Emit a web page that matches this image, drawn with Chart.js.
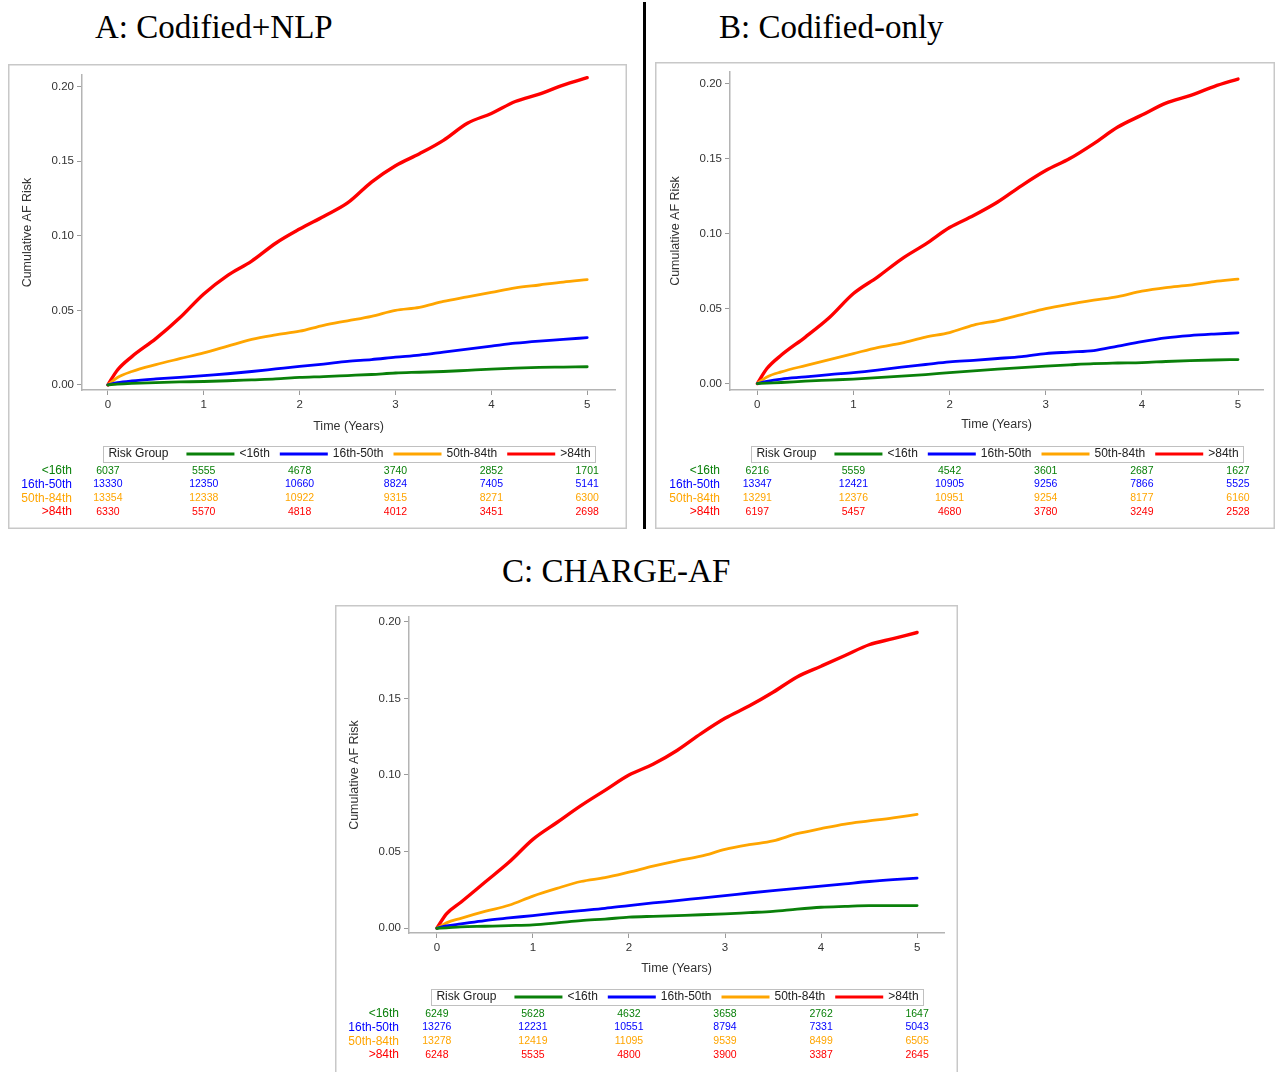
<!DOCTYPE html>
<html>
<head>
<meta charset="utf-8">
<title>Cumulative AF Risk by Risk Group</title>
<script src="https://cdn.jsdelivr.net/npm/chart.js@4.4.0/dist/chart.umd.min.js"></script>
<style>
    html, body { margin: 0; padding: 0; background: #fff; overflow: hidden; }
    body { width: 1276px; height: 1072px; position: relative; }
    .title {
        position: absolute;
        font-family: "Liberation Serif", "Times New Roman", serif;
        font-size: 33px;
        line-height: 33px;
        color: #000;
        white-space: nowrap;
    }
    canvas { position: absolute; }
    #divider { position: absolute; left: 643px; top: 2px; width: 3px; height: 527px; background: #000; }
</style>
</head>
<body>
<div class="title" style="left:95px; top:11px;">A: Codified+NLP</div>
<div class="title" style="left:719px; top:11px;">B: Codified-only</div>
<div class="title" style="left:502px; top:555px;">C: CHARGE-AF</div>
<div id="divider"></div>
<canvas id="chart-a"></canvas>
<canvas id="chart-b"></canvas>
<canvas id="chart-c"></canvas>

<script>
// --- 1. Data ---
const years = [0, 0.1, 0.25, 0.5, 0.75, 1, 1.25, 1.5, 1.75, 2, 2.25, 2.5, 2.75, 3, 3.25, 3.5, 3.75, 4, 4.25, 4.5, 4.75, 5];
const timeTicks = [0, 1, 2, 3, 4, 5];
const riskTicks = [0, 0.05, 0.10, 0.15, 0.20];
const groupNames = ['<16th', '16th-50th', '50th-84th', '>84th'];

// A: Codified+NLP
const aLow   = [0, .0005, .001, .0016, .002, .0023, .0028, .0034, .004, .005, .0056, .0063, .007, .008, .0085, .009, .0098, .0106, .0113, .0118, .012, .0122];
const aMid   = [0, .0015, .0027, .004, .005, .0063, .0075, .009, .0107, .0124, .014, .0158, .017, .0186, .020, .022, .024, .026, .028, .0294, .0305, .0317];
const aUpper = [0, .005, .009, .0136, .0176, .0215, .026, .0305, .0335, .036, .040, .043, .046, .050, .052, .056, .059, .062, .065, .067, .069, .0706];
const aTop   = [0, .010, .019, .031, .045, .061, .0735, .083, .095, .1045, .113, .122, .136, .147, .155, .164, .1755, .182, .190, .195, .201, .206];
const aAtRiskLow   = [6037, 5555, 4678, 3740, 2852, 1701];
const aAtRiskMid   = [13330, 12350, 10660, 8824, 7405, 5141];
const aAtRiskUpper = [13354, 12338, 10922, 9315, 8271, 6300];
const aAtRiskTop   = [6330, 5570, 4818, 4012, 3451, 2698];

// B: Codified-only
const bLow   = [0, .0003, .0007, .0016, .0023, .003, .004, .005, .006, .0073, .0085, .0096, .0106, .0116, .0125, .0133, .0137, .014, .0147, .0153, .0157, .016];
const bMid   = [0, .0015, .003, .0044, .006, .0073, .009, .011, .0127, .0144, .0155, .0167, .018, .020, .021, .022, .025, .028, .0305, .032, .033, .0338];
const bUpper = [0, .0044, .0078, .012, .016, .020, .024, .027, .031, .034, .039, .042, .046, .050, .053, .0556, .058, .0616, .064, .0656, .068, .0696];
const bTop   = [0, .010, .019, .031, .044, .060, .071, .083, .093, .104, .112, .121, .132, .142, .150, .160, .171, .179, .187, .192, .198, .203];
const bAtRiskLow   = [6216, 5559, 4542, 3601, 2687, 1627];
const bAtRiskMid   = [13347, 12421, 10905, 9256, 7866, 5525];
const bAtRiskUpper = [13291, 12376, 10951, 9254, 8177, 6160];
const bAtRiskTop   = [6197, 5457, 4680, 3780, 3249, 2528];

// C: CHARGE-AF
const cLow   = [0, .0003, .0009, .0013, .0017, .0022, .0035, .005, .006, .0072, .0078, .0083, .0088, .0094, .0102, .011, .0125, .0137, .0143, .0148, .0148, .0148];
const cMid   = [0, .0015, .0028, .005, .0067, .0083, .010, .0115, .013, .0148, .0165, .018, .0197, .0213, .023, .0246, .026, .0275, .029, .0305, .0317, .0327];
const cUpper = [0, .0035, .0065, .011, .015, .021, .026, .0305, .033, .0366, .0405, .044, .047, .0514, .0545, .057, .0617, .065, .068, .070, .072, .0743];
const cTop   = [0, .0094, .017, .030, .043, .058, .069, .080, .090, .100, .107, .116, .127, .137, .145, .154, .164, .171, .178, .185, .189, .193];
const cAtRiskLow   = [6249, 5628, 4632, 3658, 2762, 1647];
const cAtRiskMid   = [13276, 12231, 10551, 8794, 7331, 5043];
const cAtRiskUpper = [13278, 12419, 11095, 9539, 8499, 6505];
const cAtRiskTop   = [6248, 5535, 4800, 3900, 3387, 2645];

// --- 2. Styles and layout ---
const groupColors = ['#0a800a', '#0000ff', '#ffa500', '#ff0000'];
const lineWidths = [2.8, 2.8, 2.8, 3.4];
const SANS = '"Liberation Sans", Arial, sans-serif';
Chart.defaults.font.family = SANS;

const panels = [
    { id: 'chart-a', left: 8, top: 64, width: 619, height: 465,
      pad: { left: 8, top: 11, right: 12, bottom: 91 }, yWidth: 66, xHeight: 48,
      xMin: -0.27, xMax: 5.29, yMin: -0.0034, yMax: 0.2078,
      series: [aLow, aMid, aUpper, aTop],
      atRisk: [aAtRiskLow, aAtRiskMid, aAtRiskUpper, aAtRiskTop] },
    { id: 'chart-b', left: 655, top: 62, width: 620, height: 467,
      pad: { left: 9, top: 10, right: 12, bottom: 92.5 }, yWidth: 66, xHeight: 46.5,
      xMin: -0.284, xMax: 5.26, yMin: -0.0043, yMax: 0.2077,
      series: [bLow, bMid, bUpper, bTop],
      atRisk: [bAtRiskLow, bAtRiskMid, bAtRiskUpper, bAtRiskTop] },
    { id: 'chart-c', left: 335, top: 605, width: 623, height: 470,
      pad: { left: 8, top: 12, right: 14, bottom: 94.5 }, yWidth: 66, xHeight: 47.5,
      xMin: -0.29, xMax: 5.28, yMin: -0.0031, yMax: 0.2031,
      series: [cLow, cMid, cUpper, cTop],
      atRisk: [cAtRiskLow, cAtRiskMid, cAtRiskUpper, cAtRiskTop] }
];

// Frame, legend box and number-at-risk table, positioned from the x scale
function makeTablePlugin(atRisk) {
    return {
        id: 'riskTable',
        beforeDraw(chart) {
            const { ctx, width, height } = chart;
            ctx.save();
            ctx.strokeStyle = '#c8c8c8';
            ctx.lineWidth = 1.5;
            ctx.strokeRect(0.75, 0.75, width - 1.5, height - 1.5);
            ctx.restore();
        },
        afterDraw(chart) {
            const { ctx, chartArea } = chart;
            const xs = chart.scales.x;
            ctx.save();

            // legend
            ctx.font = '12px ' + SANS;
            const swatch = 48, swGap = 5, itemGap = 10, pad = 5, headGap = 18;
            let w = pad + ctx.measureText('Risk Group').width + headGap;
            groupNames.forEach((t, i) => {
                w += swatch + swGap + ctx.measureText(t).width + (i < groupNames.length - 1 ? itemGap : 0);
            });
            w += pad;
            const cy = chartArea.bottom + 64;
            let x = (chartArea.left + chartArea.right) / 2 + 1 - w / 2;
            ctx.strokeStyle = '#c0c0c0';
            ctx.lineWidth = 1;
            ctx.strokeRect(Math.round(x) + 0.5, Math.round(cy - 8) + 0.5, Math.round(w), 16);
            ctx.fillStyle = '#222';
            ctx.textAlign = 'left';
            ctx.textBaseline = 'middle';
            x += pad;
            ctx.fillText('Risk Group', x, cy);
            x += ctx.measureText('Risk Group').width + headGap;
            groupNames.forEach((t, i) => {
                ctx.strokeStyle = groupColors[i];
                ctx.lineWidth = 3;
                ctx.beginPath();
                ctx.moveTo(x, cy);
                ctx.lineTo(x + swatch, cy);
                ctx.stroke();
                x += swatch + swGap;
                ctx.fillStyle = '#222';
                ctx.fillText(t, x, cy);
                x += ctx.measureText(t).width + itemGap;
            });

            // number at risk
            atRisk.forEach((row, r) => {
                const y = chartArea.bottom + 81 + r * 13.6;
                ctx.fillStyle = groupColors[r];
                ctx.font = '12px ' + SANS;
                ctx.textAlign = 'right';
                ctx.fillText(groupNames[r], chartArea.left - 10, y);
                ctx.font = '10.5px ' + SANS;
                ctx.textAlign = 'center';
                row.forEach((n, i) => ctx.fillText(String(n), xs.getPixelForValue(timeTicks[i]), y));
            });
            ctx.restore();
        }
    };
}

// --- 3. Build the three charts ---
panels.forEach(p => {
    const canvas = document.getElementById(p.id);
    canvas.width = p.width;
    canvas.height = p.height;
    canvas.style.left = p.left + 'px';
    canvas.style.top = p.top + 'px';
    canvas.style.width = p.width + 'px';
    canvas.style.height = p.height + 'px';

    new Chart(canvas, {
        type: 'line',
        data: {
            datasets: p.series.map((vals, i) => ({
                label: groupNames[i],
                data: years.map((t, k) => ({ x: t, y: vals[k] })),
                borderColor: groupColors[i],
                borderWidth: lineWidths[i],
                pointRadius: 0,
                cubicInterpolationMode: 'monotone',
                borderCapStyle: 'round',
                borderJoinStyle: 'round',
                fill: false
            }))
        },
        options: {
            responsive: false,
            animation: false,
            devicePixelRatio: 1,
            layout: { padding: p.pad },
            plugins: { legend: { display: false }, tooltip: { enabled: false } },
            scales: {
                x: {
                    type: 'linear',
                    min: p.xMin,
                    max: p.xMax,
                    afterBuildTicks: s => { s.ticks = timeTicks.map(v => ({ value: v })); },
                    afterFit: s => { s.height = p.xHeight; },
                    ticks: { color: '#333', font: { size: 11.5 }, padding: 3, callback: v => String(v) },
                    grid: { drawOnChartArea: false, tickLength: 5, tickColor: '#9a9a9a' },
                    border: { color: '#b4b4b4', width: 1.5 },
                    title: { display: true, text: 'Time (Years)', color: '#333', font: { size: 12.5 } }
                },
                y: {
                    type: 'linear',
                    min: p.yMin,
                    max: p.yMax,
                    afterBuildTicks: s => { s.ticks = riskTicks.map(v => ({ value: v })); },
                    afterFit: s => { s.width = p.yWidth; },
                    ticks: { color: '#333', font: { size: 11.5 }, padding: 3, callback: v => Number(v).toFixed(2) },
                    grid: { drawOnChartArea: false, tickLength: 5, tickColor: '#9a9a9a' },
                    border: { color: '#b4b4b4', width: 1.5 },
                    title: { display: true, text: 'Cumulative AF Risk', color: '#333', font: { size: 12.5 } }
                }
            }
        },
        plugins: [makeTablePlugin(p.atRisk)]
    });
});
</script>
</body>
</html>
